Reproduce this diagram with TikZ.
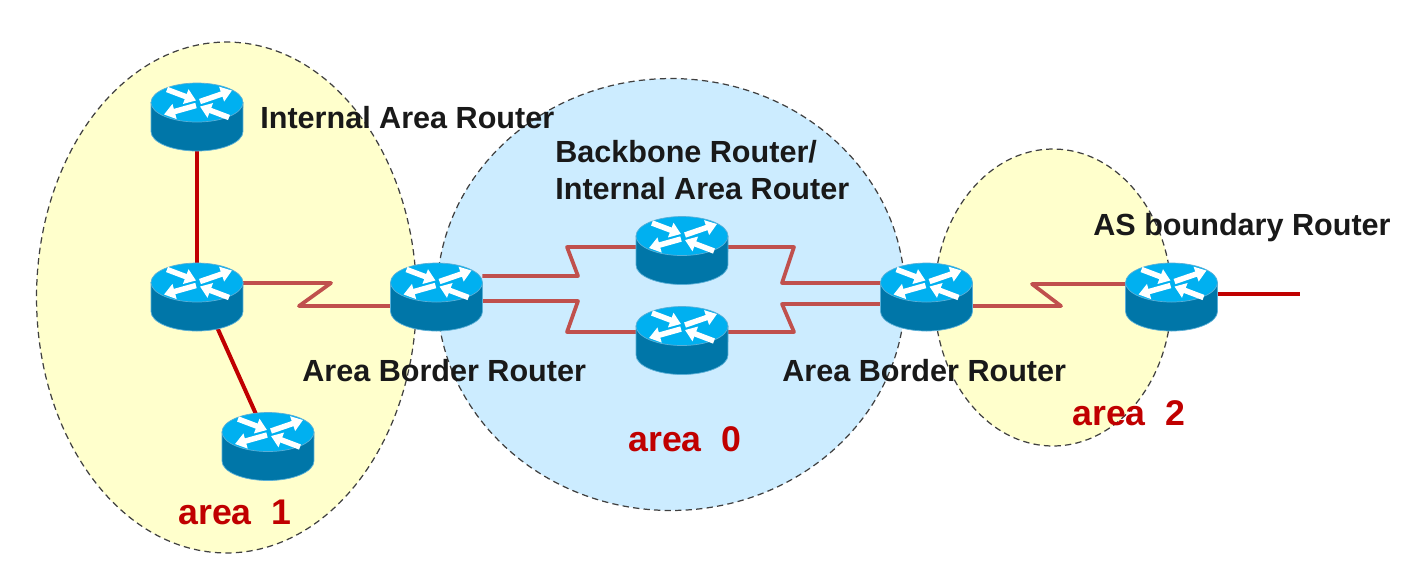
\documentclass[tikz,border=0pt]{standalone}
\usepackage{fontspec}
\setmainfont{Liberation Sans}
\usetikzlibrary{arrows.meta}
\definecolor{areayellow}{RGB}{255,255,204}
\definecolor{areablue}{RGB}{204,236,255}
\definecolor{routertop}{RGB}{0,176,240}
\definecolor{routerside}{RGB}{0,118,168}
\definecolor{routeredge}{RGB}{90,175,215}
\definecolor{linkred}{RGB}{192,80,77}
\definecolor{darkred}{RGB}{192,0,0}
\tikzset{
  x=0.02cm,y=-0.02cm,
  areashape/.style={draw=black!75,dash pattern=on 3.6pt off 2.4pt,line width=0.7pt},
  routerbox/.style={minimum width=1.84cm,minimum height=1.36cm,inner sep=0pt,outer sep=0pt},
  serial/.style={draw=linkred,line width=0.075cm,line join=round},
  ether/.style={draw=darkred,line width=0.08cm},
  label/.style={font=\fontsize{17.4pt}{21pt}\selectfont\bfseries,text=black!90,anchor=west,inner sep=0pt,align=left},
  arealabel/.style={font=\fontsize{20.3pt}{24pt}\selectfont\bfseries,text=darkred,anchor=west,inner sep=0pt},
  routerarrow/.style={draw=white,line width=0.11cm,-{Triangle[width=0.3cm,length=0.22cm]}}
}
\newcommand{\routerart}[1]{%
  \begin{scope}[shift={([yshift=0.28cm]#1.center)}]
    \fill[routerside,draw=routeredge,line width=0.4pt] (-46,0) -- (-46,29) arc[start angle=180,end angle=360,x radius=0.92cm,y radius=0.39cm] -- (46,0) -- cycle;
    \fill[routertop,draw=routeredge,line width=0.4pt] (0,0) ellipse[x radius=0.92cm,y radius=0.39cm];
    \draw[routerarrow] (-30,-13) -- (-1,-2);
    \draw[routerarrow] (3,-1) -- (35,-12);
    \draw[routerarrow] (-1,3) -- (-33,12);
    \draw[routerarrow] (32,15) -- (3,4);
  \end{scope}}
\begin{document}
\begin{tikzpicture}
\useasboundingbox (0,0) rectangle (1416,576);
\fill[white] (0,0) rectangle (1416,576);
% areas
\draw[areashape,fill=areayellow] (226.5,297.5) ellipse[x radius=3.8cm,y radius=5.11cm];
\draw[areashape,fill=areayellow] (1053,297.5) ellipse[x radius=2.37cm,y radius=2.97cm];
\draw[areashape,fill=areablue] (671,294.5) ellipse[x radius=4.68cm,y radius=4.32cm];
% routers (boxes)
\node[routerbox] (r1) at (197,116.5) {};
\node[routerbox] (r2) at (197,296.5) {};
\node[routerbox] (r3) at (268,446) {};
\node[routerbox] (abrl) at (436.5,296.5) {};
\node[routerbox] (bba) at (682,250) {};
\node[routerbox] (bbb) at (682,340) {};
\node[routerbox] (abrr) at (926.5,296.5) {};
\node[routerbox] (asbr) at (1171.5,296.5) {};
% bends
\coordinate (a1) at (331,283); \coordinate (a2) at (299,306);
\coordinate (b1) at (578,276); \coordinate (b2) at (567,247);
\coordinate (c1) at (578,301); \coordinate (c2) at (567,332);
\coordinate (d1) at (794,247); \coordinate (d2) at (782,283);
\coordinate (e1) at (794,332); \coordinate (e2) at (782,304);
\coordinate (f1) at (1061,306); \coordinate (f2) at (1032,284);
\coordinate (free) at (1300,294);
% links
\draw[ether] (r1.center) -- (r2.center);
\draw[ether] ([yshift=0.28cm]r2.center) -- ([yshift=0.28cm,xshift=-0.08cm]r3.center);
\draw[serial] (r2.east |- a1) -- (a1) -- (a2) -- (abrl.west |- a2);
\draw[serial] (abrl.east |- b1) -- (b1) -- (b2) -- (bba.west |- b2);
\draw[serial] (abrl.east |- c1) -- (c1) -- (c2) -- (bbb.west |- c2);
\draw[serial] (bba.east |- d1) -- (d1) -- (d2) -- (abrr.west |- d2);
\draw[serial] (bbb.east |- e1) -- (e1) -- (e2) -- (abrr.west |- e2);
\draw[serial] (abrr.east |- f1) -- (f1) -- (f2) -- (asbr.west |- f2);
\draw[ether] (asbr.east |- free) -- (free);
% router art
\routerart{r1}\routerart{r2}\routerart{r3}\routerart{abrl}\routerart{bba}\routerart{bbb}\routerart{abrr}\routerart{asbr}
% labels
\node[label] (t1) at (260,118) {Internal Area Router};
\node[label] (t2) at (555,170) {Backbone Router/\\Internal Area Router};
\node[label] (t3) at (302,371) {Area Border Router};
\node[label] (t4) at (782,371) {Area Border Router};
\node[label] (t5) at (1093,228) {AS boundary Router};
\node[arealabel] (l1) at (178,512) {area\ \ 1};
\node[arealabel] (l0) at (628,439) {area\ \ 0};
\node[arealabel] (l2) at (1072,413) {area\ \ 2};
\end{tikzpicture}
\end{document}
